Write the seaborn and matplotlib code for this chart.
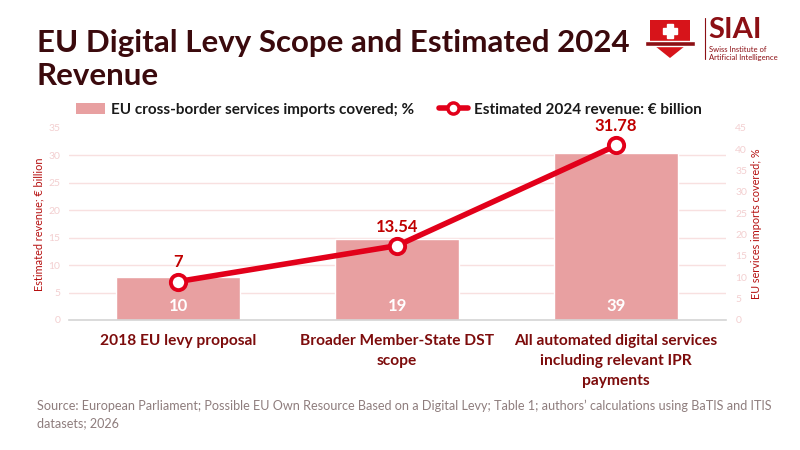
import numpy as np
import matplotlib
matplotlib.use("Agg")
import matplotlib.pyplot as plt
from matplotlib.patches import Polygon, Rectangle, Patch
from matplotlib.lines import Line2D
import seaborn as sns

# chart data
categories = ["2018 EU levy proposal",
              "Broader Member-State DST\nscope",
              "All automated digital services\nincluding relevant IPR\npayments"]
imports_pct = [10, 19, 39]
revenue_bn = [7, 13.54, 31.78]
revenue_labels = ["7", "13.54", "31.78"]

bar_name = "EU cross-border services imports covered; %"
line_name = "Estimated 2024 revenue: € billion"
title = "EU Digital Levy Scope and Estimated 2024\nRevenue"
source = ("Source: European Parliament; Possible EU Own Resource Based on a Digital Levy; Table 1; "
          "authors\u2019 calculations using BaTIS and ITIS\ndatasets; 2026")

# colours
bar_col = "#e8a0a1"
line_col = "#e2001a"
dark_red = "#7d0c0c"
label_red = "#b50f0f"
tick_pink = "#f3cfd0"
grid_pink = "#f8e0e0"

sns.set_theme(style="white")
plt.rcParams["font.family"] = ["Lato", "DejaVu Sans"]

fig = plt.figure(figsize=(8, 4.5), dpi=100)
ax = fig.add_axes([0.086, 0.289, 0.821, 0.427])
ax2 = ax.twinx()

# bars on the percentage axis (drawn at the back, ticks on the right)
sns.barplot(x=categories, y=imports_pct, ax=ax, color=bar_col, width=0.565,
            saturation=1, zorder=2)
ax.set_ylim(0, 45)
ax.set_yticks(np.arange(0, 46, 5))
ax.yaxis.tick_right()
ax.yaxis.set_label_position("right")
ax.set_ylabel("EU services imports covered; %", color=label_red, fontsize=7.8,
              rotation=90, labelpad=3)
ax.tick_params(axis="y", colors=tick_pink, labelsize=7.5, length=0, pad=7)
# gridlines follow the revenue scale (0..35 step 5)
ax.set_yticks(np.linspace(0, 45, 8), minor=True)
ax.tick_params(axis="y", which="minor", length=0)
ax.grid(axis="y", which="minor", color=grid_pink, linewidth=1, zorder=0)
ax.grid(axis="y", which="major", visible=False)
ax.grid(axis="x", visible=False)
ax.set_axisbelow(True)

for bar, v in zip(ax.patches, imports_pct):
    ax.text(bar.get_x() + bar.get_width() / 2, 1.4, str(v), ha="center", va="bottom",
            color="white", fontsize=12, fontweight="bold", zorder=3)

for s in ["top", "left", "right"]:
    ax.spines[s].set_visible(False)
ax.spines["bottom"].set_color("#d4d4d4")
ax.spines["bottom"].set_linewidth(1.2)

# revenue line on the twin axis (ticks moved to the left)
pos = np.arange(len(categories))
sns.lineplot(x=pos, y=revenue_bn, ax=ax2, color=line_col, linewidth=4,
             marker="o", markersize=11, markerfacecolor="white",
             markeredgecolor=line_col, markeredgewidth=2.8, zorder=5)
ax2.set_ylim(0, 35)
ax2.set_yticks(np.arange(0, 36, 5))
ax2.yaxis.tick_left()
ax2.yaxis.set_label_position("left")
ax2.set_ylabel("Estimated revenue; € billion", color=label_red, fontsize=7.8, labelpad=3)
ax2.tick_params(axis="y", colors=tick_pink, labelsize=7.5, length=0, pad=6)
for s in ax2.spines.values():
    s.set_visible(False)
ax2.grid(False)

for x, y, lab in zip(pos, revenue_bn, revenue_labels):
    ax2.annotate(lab, (x, y), xytext=(0, 8), textcoords="offset points",
                 ha="center", va="bottom", color="#c00000", fontsize=12, fontweight="bold")

ax.set_xlim(-0.5, 2.5)
ax.set_xticks(pos)
ax.set_xticklabels(categories, color=dark_red, fontsize=11.2, fontweight="bold",
                   linespacing=1.55, va="top")
ax.tick_params(axis="x", length=0, pad=10)
ax.set_xlabel("")

# legend
handles = [Patch(facecolor=bar_col, edgecolor="none"),
           Line2D([0], [0], color=line_col, linewidth=4, marker="o", markersize=8,
                  markerfacecolor="white", markeredgecolor=line_col, markeredgewidth=2.5)]
fig.legend(handles, [bar_name, line_name], loc="center left", ncol=2, frameon=False,
           bbox_to_anchor=(0.078, 0.756), handlelength=1.9,
           handletextpad=0.4, columnspacing=1.6, labelcolor="#1a1a1a",
           prop={"weight": "bold", "size": 11})

# title and source
fig.text(0.046, 0.935, title, ha="left", va="top", fontsize=22.5, fontweight="bold",
         color="#3b0a0d", linespacing=1.2)
fig.text(0.046, 0.112, source, ha="left", va="top", fontsize=9.1, color="#8e7d7d",
         linespacing=1.55)

# logo (pixel coordinates, origin bottom-left)
H = 450
shield = Polygon([[650, H - 20], [690, H - 20], [690, H - 42], [670, H - 58], [650, H - 42]],
                 closed=True, transform=None, facecolor="#d7141a", edgecolor="none")
fig.patches.append(shield)
fig.patches.append(Rectangle((645, H - 46), 50, 5, transform=None, facecolor="#8c0f14"))
fig.patches.append(Rectangle((667, H - 38), 6, 14, transform=None, facecolor="white"))
fig.patches.append(Rectangle((663, H - 34), 14, 6, transform=None, facecolor="white"))
fig.add_artist(Line2D([0.8813, 0.8813], [0.87, 0.96], color="#8c0f14", linewidth=0.8))
fig.text(0.885, 0.962, "SIAI", ha="left", va="top", fontsize=21, fontweight="bold",
         color="#8c0f14")
fig.text(0.886, 0.897, "Swiss Institute of\nArtificial Intelligence", ha="left", va="top",
         fontsize=5.5, color="#8c0f14", linespacing=1.05)

fig.savefig("out.png", dpi=100)
